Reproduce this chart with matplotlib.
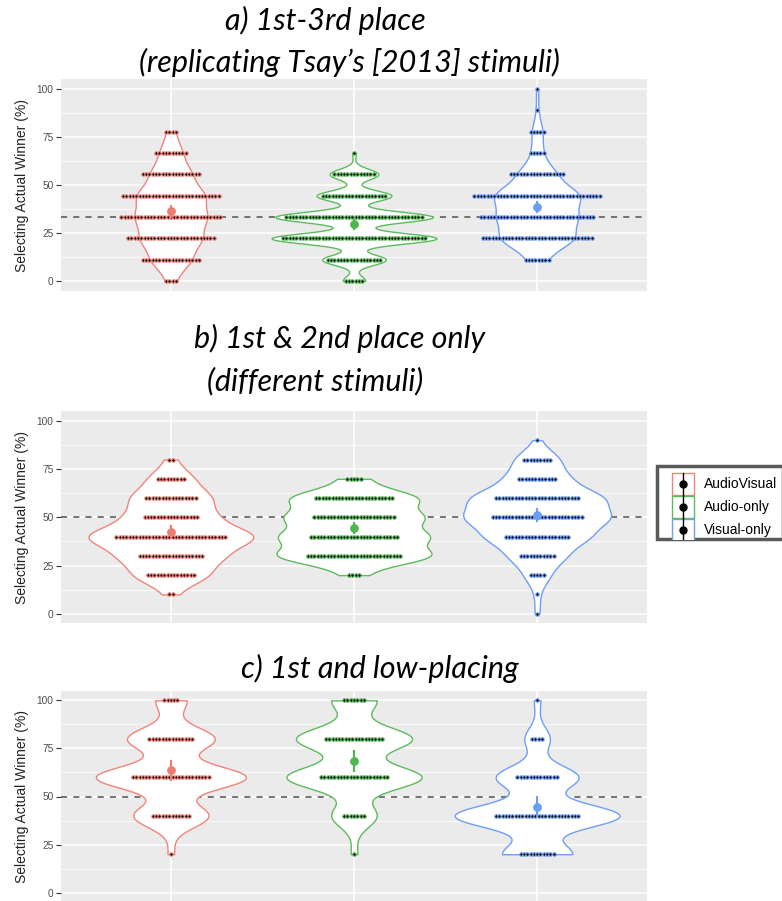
import numpy as np
import matplotlib
matplotlib.use("Agg")
import matplotlib.pyplot as plt
from matplotlib.patches import Rectangle

# ---- data: number of participants at each % level, per condition ----
groups = ["AudioVisual", "Audio-only", "Visual-only"]
colors = ["#F1847A", "#5CBB5C", "#6E9EF8"]
mean_colors = ["#EC7D72", "#4DB84D", "#6A9DF6"]

levels_a = [0, 11.1, 22.2, 33.3, 44.4, 55.6, 66.7, 77.8, 88.9, 100]
counts_a_av = [4, 18, 27, 31, 30, 18, 10, 4, 0, 0]
counts_a_ao = [6, 17, 44, 42, 20, 13, 1, 0, 0, 0]
counts_a_vo = [0, 8, 34, 35, 39, 17, 5, 5, 1, 1]

levels_b = [0, 10, 20, 30, 40, 50, 60, 70, 80, 90, 100]
counts_b_av = [0, 2, 15, 20, 34, 17, 16, 9, 2, 0, 0]
counts_b_ao = [0, 0, 4, 29, 27, 25, 24, 5, 0, 0, 0]
counts_b_vo = [1, 1, 5, 11, 20, 28, 26, 12, 9, 1, 0]

levels_c = [20, 40, 60, 80, 100]
counts_c_av = [1, 12, 24, 14, 5]
counts_c_ao = [1, 7, 21, 18, 7]
counts_c_vo = [11, 26, 13, 4, 1]

chance = [33.3, 50, 50]
y_ticks = [0, 25, 50, 75, 100]

titles = [("a) 1st-3rd place", 325, 20), ("(replicating Tsay\u2019s [2013] stimuli)", 349, 62),
          ("b) 1st & 2nd place only", 340, 338), ("(different stimuli)", 315, 381),
          ("c) 1st and low-placing", 380, 668)]

W, H = 782, 901
fig = plt.figure(figsize=(W / 100, H / 100), dpi=100)


def kde_nrd0(vals):
    vals = np.asarray(vals, float)
    n = len(vals)
    sd = vals.std(ddof=1)
    q75, q25 = np.percentile(vals, [75, 25])
    lo = min(sd, (q75 - q25) / 1.34)
    if lo <= 0:
        lo = sd
    bw = 0.9 * lo * n ** -0.2
    grid = np.linspace(vals.min(), vals.max(), 512)
    d = np.exp(-0.5 * ((grid[:, None] - vals[None, :]) / bw) ** 2).sum(1) / (n * bw * np.sqrt(2 * np.pi))
    return grid, d


def panel(top, bottom, levels, counts_list, chance_y):
    ax = fig.add_axes([61 / W, 1 - bottom / H, 586 / W, (bottom - top) / H])
    ax.set_facecolor("#EBEBEB")
    for s in ax.spines.values():
        s.set_visible(False)
    ax.set_xlim(0.4, 3.6)
    ax.set_ylim(-5, 105)
    ax.set_yticks(y_ticks)
    ax.set_yticks([12.5, 37.5, 62.5, 87.5], minor=True)
    ax.set_xticks([1, 2, 3])
    ax.set_xticklabels([])
    ax.tick_params(axis="x", length=0)
    ax.tick_params(axis="y", which="major", length=3.5, color="#333333", labelcolor="#4D4D4D",
                   labelsize=7.3, pad=2)
    ax.tick_params(axis="y", which="minor", length=0)
    ax.grid(True, which="major", color="white", lw=1.1)
    ax.grid(True, which="minor", axis="y", color="white", lw=0.55)
    ax.set_axisbelow(True)
    ax.axhline(chance_y, color="#505050", lw=1.1, ls=(0, (4, 4)), zorder=1.5)

    data = [np.repeat(levels, c) for c in counts_list]
    kdes = [kde_nrd0(v) for v in data]
    dmax = max(d.max() for _, d in kdes)
    step = 0.018
    for i, (vals, (g, d)) in enumerate(zip(data, kdes)):
        x = i + 1
        hw = d / dmax * 0.45
        ax.fill_betweenx(g, x - hw, x + hw, facecolor="white", edgecolor=colors[i], lw=1.0, zorder=3)
        for lev, c in zip(levels, counts_list[i]):
            if c == 0:
                continue
            xs = x + (np.arange(c) - (c - 1) / 2) * step
            ax.scatter(xs, np.full(c, lev), s=6, c="black", edgecolors=colors[i], linewidths=0.8, zorder=4)
        m = vals.mean()
        ci = 1.98 * vals.std(ddof=1) / np.sqrt(len(vals))
        ax.plot([x, x], [m - ci, m + ci], color=mean_colors[i], lw=1.5, zorder=5)
        ax.scatter([x], [m], s=40, color=mean_colors[i], zorder=6, linewidths=0)
    ax.set_ylabel("Selecting Actual Winner (%)", fontsize=10, color="#222222",
                  family=["Liberation Sans", "DejaVu Sans"])
    ax.yaxis.set_label_coords(-(61 - 29) / 586, 0.5)
    for lab in ax.get_yticklabels():
        lab.set_family(["Liberation Sans", "DejaVu Sans"])
    return ax


panel(79.4, 290.6, levels_a, [counts_a_av, counts_a_ao, counts_a_vo], chance[0])
panel(411.4, 623.3, levels_b, [counts_b_av, counts_b_ao, counts_b_vo], chance[1])
panel(690.7, 902.3, levels_c, [counts_c_av, counts_c_ao, counts_c_vo], chance[2])

for txt, cx, cy in titles:
    fig.text(cx / W, 1 - cy / H, txt, ha="center", va="center", fontsize=22, style="italic",
             family=["Lato", "DejaVu Sans"], color="black")

# legend
lx0, ly0, lx1, ly1 = 655, 464, 782, 540
lax = fig.add_axes([lx0 / W, 1 - ly1 / H, (lx1 - lx0) / W, (ly1 - ly0) / H])
lax.set_xlim(lx0, lx1)
lax.set_ylim(ly1, ly0)
lax.axis("off")
lax.add_patch(Rectangle((lx0 + 1.5, ly0 + 1.5), lx1 - lx0 - 1, ly1 - ly0 - 3, facecolor="white",
                        edgecolor="#5A5A5A", lw=2.5, clip_on=False))
for i, g in enumerate(groups):
    cy = 484 + i * 23
    lax.add_patch(Rectangle((672, cy - 11), 22, 22, facecolor="white", edgecolor=colors[i], lw=1.0))
    lax.plot([683, 683], [cy - 11, cy + 11], color="black", lw=1.0)
    lax.plot([683], [cy], "o", color="black", ms=5)
    lax.text(704, cy, g, va="center", ha="left", fontsize=10, family=["Liberation Sans", "DejaVu Sans"])

fig.savefig("out.png", dpi=100)
